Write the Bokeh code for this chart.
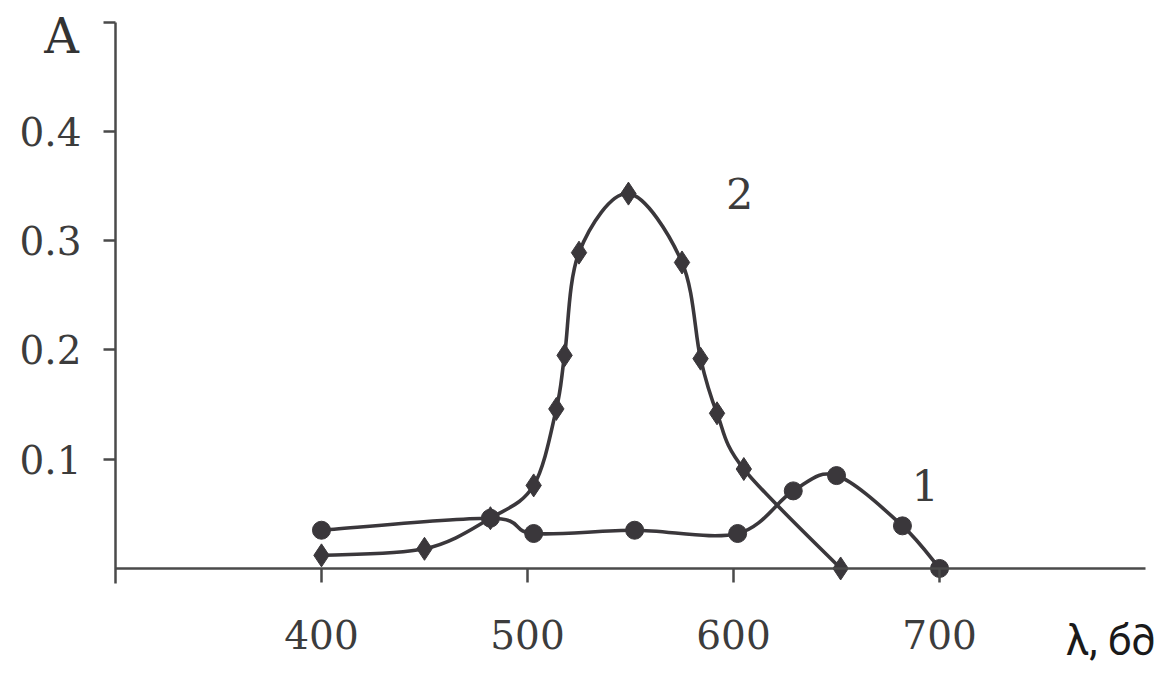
from bokeh.plotting import figure
from bokeh.models import Range1d, FixedTicker, Label
from bokeh.core.properties import value
from bokeh.embed import file_html
from bokeh.resources import INLINE

# ---- data ----
wl_1 = [400, 482, 503, 552, 602, 629, 650, 682, 700]
abs_1 = [0.035, 0.046, 0.032, 0.035, 0.032, 0.071, 0.085, 0.039, 0.0]

wl_2 = [400, 450, 482, 503, 514, 518, 525, 549, 575, 584, 592, 605, 652]
abs_2 = [0.012, 0.018, 0.046, 0.076, 0.146, 0.195, 0.289, 0.343, 0.280, 0.192, 0.142, 0.091, 0.0]

x_ticks = [400, 500, 600, 700]
y_ticks = [0.1, 0.2, 0.3, 0.4, 0.5]
y_tick_labels = ["0.1", "0.2", "0.3", "0.4", ""]

curve_names = ["1", "2"]
y_title = "A"
x_title = "λ, б∂"

INK = "#3a373b"
TEXT = "#3c3c3c"
AXIS = "#4a4a4a"
SERIF = "DejaVu Serif"

# the frame fills the whole canvas; the axes cross at (300, 0)
p = figure(width=1157, height=700, output_backend="svg", toolbar_location=None,
           x_range=Range1d(244.2, 805.8), y_range=Range1d(-0.1208, 0.5197),
           min_border=0)
p.outline_line_color = None
p.xgrid.visible = False
p.ygrid.visible = False
p.background_fill_color = "white"
p.border_fill_color = "white"

xa = p.xaxis[0]
ya = p.yaxis[0]
xa.fixed_location = 0
ya.fixed_location = 300
xa.bounds = (300, 800)
ya.bounds = (-0.014, 0.5)
xa.ticker = FixedTicker(ticks=x_ticks)
ya.ticker = FixedTicker(ticks=y_ticks)
ya.major_label_overrides = {t: l for t, l in zip(y_ticks, y_tick_labels)}

for ax in (xa, ya):
    ax.minor_tick_line_color = None
    ax.major_tick_in = 0
    ax.major_label_text_font = SERIF
    ax.major_label_text_font_size = "39px"
    ax.major_label_text_color = TEXT
    ax.axis_line_color = AXIS
    ax.major_tick_line_color = AXIS
    ax.axis_line_width = 2.5
    ax.major_tick_line_width = 2.5

xa.major_tick_out = 14
xa.major_label_standoff = 38
ya.major_tick_out = 12
ya.major_label_standoff = 22


def smooth(xs, ys):
    """Catmull-Rom control points for drawing a smooth line through the data."""
    n = len(xs)
    seg = dict(x0=[], y0=[], x1=[], y1=[], cx0=[], cy0=[], cx1=[], cy1=[])
    for i in range(n - 1):
        xa_, ya_ = xs[max(i - 1, 0)], ys[max(i - 1, 0)]
        xb, yb = xs[i], ys[i]
        xc, yc = xs[i + 1], ys[i + 1]
        xd, yd = xs[min(i + 2, n - 1)], ys[min(i + 2, n - 1)]
        seg["x0"].append(xb); seg["y0"].append(yb)
        seg["x1"].append(xc); seg["y1"].append(yc)
        seg["cx0"].append(xb + (xc - xa_) / 6.0); seg["cy0"].append(yb + (yc - ya_) / 6.0)
        seg["cx1"].append(xc - (xd - xb) / 6.0); seg["cy1"].append(yc - (yd - yb) / 6.0)
    return seg


for xs, ys in ((wl_1, abs_1), (wl_2, abs_2)):
    s = smooth(xs, ys)
    p.bezier(x0=s["x0"], y0=s["y0"], x1=s["x1"], y1=s["y1"],
             cx0=s["cx0"], cy0=s["cy0"], cx1=s["cx1"], cy1=s["cy1"],
             line_color=INK, line_width=3.6)

p.scatter(wl_1, abs_1, marker="circle", size=18, fill_color=INK, line_color=INK)
p.scatter(wl_2, abs_2, marker="diamond", size=23, fill_color=INK, line_color=INK)

# curve labels
p.text(x=[693, 603], y=[0.076, 0.343], text=curve_names, text_font=value(SERIF),
       text_font_size="43px", text_color=TEXT, text_align="center", text_baseline="middle")

# axis titles
p.add_layout(Label(x=273.8, y=0.487, text=y_title, text_font=SERIF, text_font_size="48px",
                   text_color="#333333", text_align="center", text_baseline="middle"))
p.add_layout(Label(x=783, y=-0.066, text=x_title, text_font="Roboto", text_font_size="42px",
                   text_color="#1a1a1a", text_align="center", text_baseline="middle"))

open("out.html", "w").write(file_html(p, INLINE))
